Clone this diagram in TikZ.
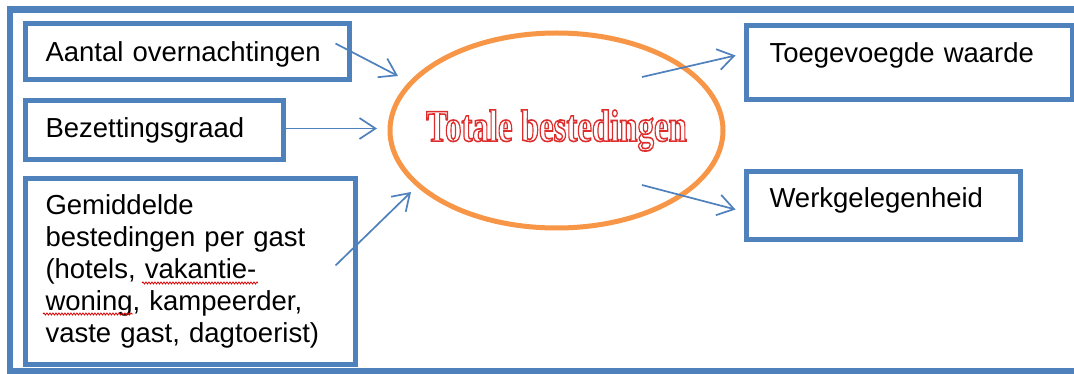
\documentclass[tikz,border=0pt]{standalone}
\usepackage{fontspec}
\setmainfont{Liberation Sans}
\newfontfamily\titlefont{Liberation Serif}
\usepackage{graphicx}
\usetikzlibrary{shapes.geometric,arrows.meta,calc,decorations.pathmorphing}
\definecolor{frameblue}{RGB}{79,129,189}
\definecolor{ellorange}{RGB}{247,150,70}
\definecolor{titlered}{RGB}{222,45,45}
\newcommand\myBodyFont{\fontsize{27.5}{32}\selectfont}
\newcommand\myOutline[1]{\special{pdf:literal direct 1 Tr 1.6 w}#1\special{pdf:literal direct 0 Tr}}
\tikzset{
  box/.style={draw=frameblue, line width=5pt, rectangle, anchor=north west, align=left,
    font=\myBodyFont, inner ysep=0pt},
  arr/.style={draw=frameblue, line width=1.7pt, -{Straight Barb[length=16pt,width=21pt]}},
  squig/.style={draw=red!85!black, line width=0.8pt, decorate,
    decoration={snake, amplitude=1pt, segment length=3pt}},
}
\begin{document}
\begin{tikzpicture}[x=1pt,y=-1pt]
\useasboundingbox (0,0) rectangle (1074,374);
\fill[white] (0,0) rectangle (1074,374);
% outer frame (right side beyond the picture)
\draw[draw=frameblue, line width=6.5pt] (1074,9.5) -| (10,371.5) -- (1074,371.5);

% left boxes
\node[box, text width=283pt, inner xsep=20.5pt, minimum height=56pt, text height=20pt, text depth=1pt]
  (b1) at (22.5,21.5) {Aantal overnachtingen};
\node[box, text width=217pt, inner xsep=20.5pt, minimum height=59pt, text height=20pt, text depth=6pt]
  (b2) at (22.5,98.5) {Bezettingsgraad};
\node[box, text width=289pt, inner xsep=20.5pt, minimum height=185pt]
  (b3) at (22.5,176.5) {Gemiddelde\\bestedingen per gast\\(hotels, vakantie-\\woning, kampeerder,\\vaste gast, dagtoerist)};

% right boxes
\node[box, text width=279.5pt, inner xsep=23pt, minimum height=74.5pt, text height=20pt, text depth=20pt]
  (r1) at (744,23) {Toegevoegde waarde};
\node[box, text width=227.5pt, inner xsep=23pt, minimum height=68pt, text height=20pt, text depth=16pt]
  (r2) at (744,169) {Werkgelegenheid};

% central ellipse
\node[draw=ellorange, line width=5pt, ellipse, minimum width=333pt, minimum height=195pt, inner sep=0pt]
  (ell) at (556.5,130.5)
  {\makebox[0pt]{\fontsize{45}{50}\titlefont\bfseries\color{titlered}\scalebox{0.73}[1]{\myOutline{Totale bestedingen}}}};

% connectors
\draw[arr] ([xshift=-16pt,yshift=8.5pt]b1.east) -- ([xshift=10.5pt,yshift=54.5pt]ell.west);
\draw[arr] ([yshift=2pt]b2.east) -- ([xshift=-10.5pt,yshift=2pt]ell.west);
\draw[arr] ([xshift=-22pt,yshift=6pt]b3.east) -- ([xshift=23.5pt,yshift=-61.5pt]ell.west);
\draw[arr] ([xshift=85.5pt,yshift=53.5pt]ell.center) -- ([xshift=-8.5pt,yshift=7.25pt]r1.west);
\draw[arr] ([xshift=85.5pt,yshift=-54.5pt]ell.center) -- ([xshift=-8.5pt,yshift=-4pt]r2.west);

% spell-check squiggles
\draw[squig] (142,283) -- (258,283);
\draw[squig] (43,314) -- (133,314);
\end{tikzpicture}
\end{document}
